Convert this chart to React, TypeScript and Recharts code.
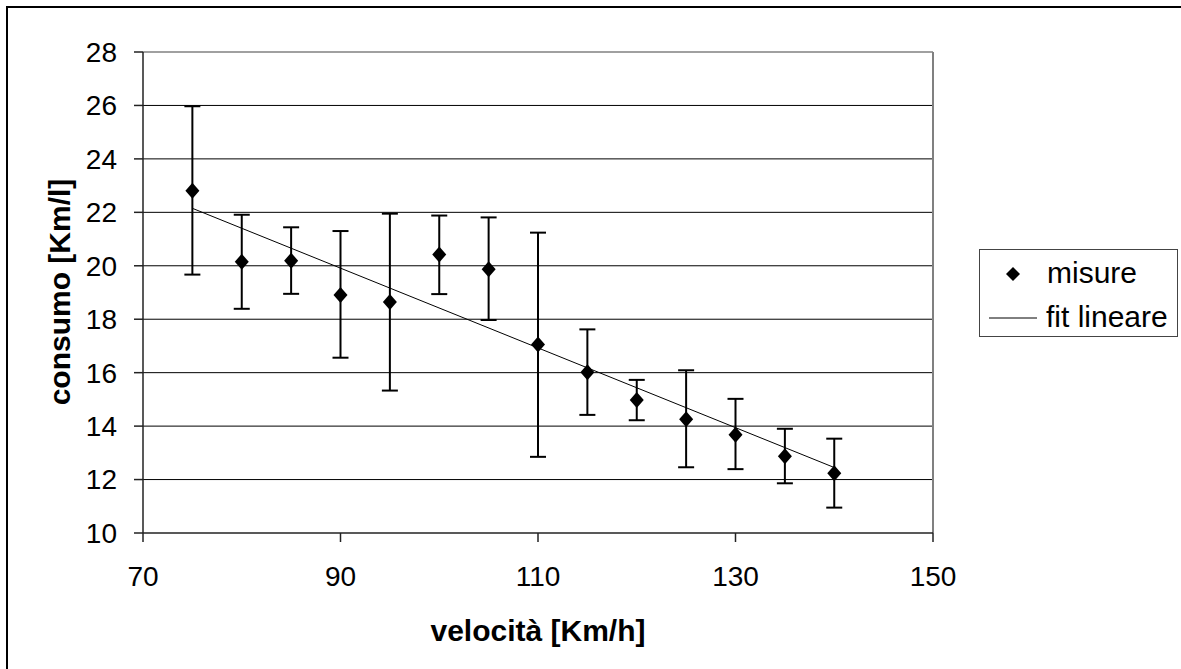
import {
  ComposedChart,
  Scatter,
  ErrorBar,
  XAxis,
  YAxis,
  CartesianGrid,
  ReferenceLine,
} from 'recharts'

// velocità [Km/h]
const speeds = [75, 80, 85, 90, 95, 100, 105, 110, 115, 120, 125, 130, 135, 140]
// consumo [Km/l] measured
const consumo = [22.81, 20.15, 20.19, 18.91, 18.64, 20.42, 19.87, 17.05, 16.02, 14.98, 14.26, 13.68, 12.87, 12.24]
// error bar ends
const upper = [25.97, 21.91, 21.44, 21.3, 21.95, 21.88, 21.81, 21.24, 17.62, 15.73, 16.09, 15.02, 13.9, 13.53]
const lower = [19.67, 18.39, 18.95, 16.56, 15.33, 18.94, 17.97, 12.85, 14.42, 14.22, 12.46, 12.39, 11.86, 10.95]

// linear fit end points
const fitX = [75, 140]
const fitY = [22.15, 12.45]

const xTicks = [70, 90, 110, 130, 150]
const yTicks = [10, 12, 14, 16, 18, 20, 22, 24, 26, 28]
const gridValues = [12, 14, 16, 18, 20, 22, 24, 26]

const FONT = '"Liberation Sans", Arial, sans-serif'

const measures = speeds.map((x, i) => ({
  x,
  y: consumo[i],
  err: [consumo[i] - lower[i], upper[i] - consumo[i]],
}))

const fit = fitX.map((x, i) => ({ x, y: fitY[i] }))

const Diamond = (props: any) => {
  const { cx, cy } = props
  if (cx == null || cy == null) return <g />
  return <path d={`M${cx},${cy - 8} L${cx + 7},${cy} L${cx},${cy + 8} L${cx - 7},${cy} Z`} fill="#000" />
}

const NoDot = () => <g />

function ChartLegend() {
  return (
    <div
      style={{
        position: 'absolute',
        left: 979,
        top: 249,
        width: 199,
        height: 88,
        border: '1.5px solid #444',
        background: '#fff',
        boxSizing: 'border-box',
        fontFamily: FONT,
        fontSize: 30,
        color: '#000',
      }}
    >
      <svg width={60} height={86} style={{ position: 'absolute', left: 0, top: 0 }}>
        <path d="M33,17 L40,24 L33,31 L26,24 Z" fill="#000" />
        <line x1={9} y1={68} x2={57} y2={68} stroke="#000" strokeWidth={1} />
      </svg>
      <div style={{ position: 'absolute', left: 67, top: 6, lineHeight: '34px' }}>misure</div>
      <div style={{ position: 'absolute', left: 66, top: 50, lineHeight: '34px' }}>fit lineare</div>
    </div>
  )
}

export default function App() {
  return (
    <div style={{ position: 'fixed', left: 0, top: 0, width: 1181, height: 669, background: '#fff', overflow: 'hidden' }}>
      <div
        style={{
          position: 'absolute',
          left: 6,
          top: 6,
          width: 1181,
          height: 669,
          borderLeft: '2px solid #000',
          borderTop: '2px solid #000',
        }}
      />
      <ComposedChart
        width={1181}
        height={669}
        margin={{ top: 52, right: 248, bottom: 0, left: 0 }}
        style={{ position: 'absolute', left: 0, top: 0 }}
      >
        <CartesianGrid
          vertical={false}
          horizontalValues={gridValues}
          stroke="#000"
          strokeWidth={1}
        />
        <XAxis
          type="number"
          dataKey="x"
          domain={[70, 150]}
          ticks={xTicks}
          allowDataOverflow
          height={136}
          tickSize={9}
          tickMargin={24}
          stroke="#222"
          strokeWidth={1.5}
          tick={{ fill: '#000', fontSize: 28, fontFamily: FONT }}
          label={{
            content: () => (
              <text x={538} y={641} textAnchor="middle" fontFamily={FONT} fontSize={30} fontWeight="bold" fill="#000">
                velocità [Km/h]
              </text>
            ),
          }}
        />
        <YAxis
          type="number"
          dataKey="y"
          domain={[10, 28]}
          ticks={yTicks}
          allowDataOverflow
          width={143}
          tickSize={9}
          tickMargin={17}
          stroke="#222"
          strokeWidth={1.5}
          tick={{ fill: '#000', fontSize: 28, fontFamily: FONT }}
          label={{
            content: () => (
              <text
                x={70}
                y={292}
                textAnchor="middle"
                transform="rotate(-90 70 292)"
                fontFamily={FONT}
                fontSize={30}
                fontWeight="bold"
                fill="#000"
              >
                consumo [Km/l]
              </text>
            ),
          }}
        />
        <ReferenceLine y={28} stroke="#808080" strokeWidth={1.5} />
        <ReferenceLine x={150} stroke="#808080" strokeWidth={2} />
        <Scatter
          name="fit lineare"
          data={fit}
          line={{ stroke: '#000', strokeWidth: 1 }}
          shape={NoDot}
          isAnimationActive={false}
        />
        <Scatter name="misure" data={measures} shape={Diamond} isAnimationActive={false}>
          <ErrorBar dataKey="err" direction="y" width={8} stroke="#000" strokeWidth={2} />
        </Scatter>
      </ComposedChart>
      <ChartLegend />
    </div>
  )
}
